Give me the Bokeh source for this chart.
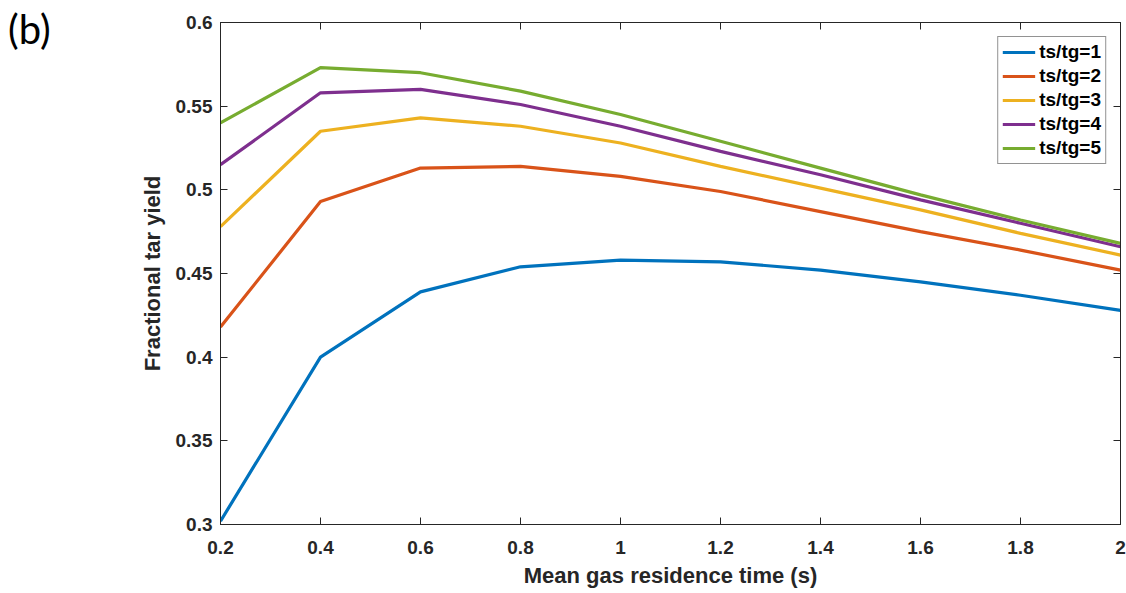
from bokeh.plotting import figure
from bokeh.models import FixedTicker, LinearAxis, Range1d, Legend, Div
from bokeh.layouts import row
from bokeh.embed import file_html
from bokeh.resources import INLINE

x_time = [0.2, 0.4, 0.6, 0.8, 1.0, 1.2, 1.4, 1.6, 1.8, 2.0]
y_ratio1 = [0.302, 0.400, 0.439, 0.454, 0.458, 0.457, 0.452, 0.445, 0.437, 0.428]
y_ratio2 = [0.418, 0.493, 0.513, 0.514, 0.508, 0.499, 0.487, 0.475, 0.464, 0.452]
y_ratio3 = [0.478, 0.535, 0.543, 0.538, 0.528, 0.514, 0.501, 0.488, 0.474, 0.461]
y_ratio4 = [0.515, 0.558, 0.560, 0.551, 0.538, 0.523, 0.509, 0.494, 0.480, 0.466]
y_ratio5 = [0.540, 0.573, 0.570, 0.559, 0.545, 0.529, 0.513, 0.497, 0.482, 0.468]
series_labels = ["ts/tg=1", "ts/tg=2", "ts/tg=3", "ts/tg=4", "ts/tg=5"]
series_colors = ["#0072BD", "#D95319", "#EDB120", "#7E2F8E", "#77AC30"]

x_ticks = [0.2, 0.4, 0.6, 0.8, 1.0, 1.2, 1.4, 1.6, 1.8, 2.0]
x_tick_labels = ["0.2", "0.4", "0.6", "0.8", "1", "1.2", "1.4", "1.6", "1.8", "2"]
y_ticks = [0.3, 0.35, 0.4, 0.45, 0.5, 0.55, 0.6]
y_tick_labels = ["0.3", "0.35", "0.4", "0.45", "0.5", "0.55", "0.6"]
panel_tag = "(b)"

FONT = "Liberation Sans"
AX = "#262626"

p = figure(width=1066, height=593, output_backend="svg", toolbar_location=None,
           x_range=Range1d(0.2, 2.0), y_range=Range1d(0.3, 0.6),
           min_border_left=160, min_border_right=6, min_border_top=22, min_border_bottom=69)
p.background_fill_color = "white"
p.border_fill_color = "white"
p.outline_line_color = AX
p.outline_line_width = 1
p.xgrid.visible = False
p.ygrid.visible = False

all_series = [y_ratio1, y_ratio2, y_ratio3, y_ratio4, y_ratio5]
renderers = []
for ys, lab, col in zip(all_series, series_labels, series_colors):
    r = p.line(x_time, ys, line_color=col, line_width=3.2)
    renderers.append((lab, [r]))

def style_axis(ax):
    ax.axis_line_color = AX
    ax.major_tick_line_color = AX
    ax.major_tick_in = 7
    ax.major_tick_out = 0
    ax.minor_tick_line_color = None
    ax.major_label_text_font = FONT
    ax.major_label_text_font_style = "bold"
    ax.major_label_text_font_size = "19px"
    ax.major_label_text_color = AX

xa = p.xaxis[0]
xa.ticker = FixedTicker(ticks=x_ticks)
xa.major_label_overrides = {t: s for t, s in zip(x_ticks, x_tick_labels)}
style_axis(xa)
xa.major_label_standoff = 16
xa.axis_label = "Mean gas residence time (s)"
xa.axis_label_text_font = FONT
xa.axis_label_text_font_style = "bold"
xa.axis_label_text_font_size = "22px"
xa.axis_label_text_color = AX
xa.axis_label_standoff = 6

ya = p.yaxis[0]
ya.ticker = FixedTicker(ticks=y_ticks)
ya.major_label_overrides = {t: s for t, s in zip(y_ticks, y_tick_labels)}
style_axis(ya)
ya.major_label_standoff = 8
ya.axis_label = "Fractional tar yield"
ya.axis_label_text_font = FONT
ya.axis_label_text_font_style = "bold"
ya.axis_label_text_font_size = "22px"
ya.axis_label_text_color = AX
ya.axis_label_standoff = 8

top = LinearAxis(ticker=FixedTicker(ticks=x_ticks))
style_axis(top)
top.major_label_overrides = {t: "" for t in x_ticks}
p.add_layout(top, "above")
right = LinearAxis(ticker=FixedTicker(ticks=y_ticks))
style_axis(right)
right.major_label_overrides = {t: "" for t in y_ticks}
p.add_layout(right, "right")

legend = Legend(items=renderers, location="top_right")
legend.label_text_font = FONT
legend.label_text_font_style = "bold"
legend.label_text_font_size = "19px"
legend.label_text_color = "black"
legend.glyph_width = 33
legend.glyph_height = 20
legend.label_height = 20
legend.spacing = 2
legend.padding = 4
legend.margin = 14
legend.label_standoff = 4
legend.border_line_color = AX
legend.border_line_width = 1
legend.background_fill_alpha = 1
p.add_layout(legend, "center")

tag = Div(text=panel_tag, width=60, height=593, margin=0,
          styles={"font-family": "Lato", "font-size": "40px", "color": "black",
                  "padding-left": "8px", "padding-top": "5px", "line-height": "1.2",
                  "background-color": "white"})

layout = row(tag, p, spacing=0)
open("out.html", "w").write(file_html(layout, INLINE))
